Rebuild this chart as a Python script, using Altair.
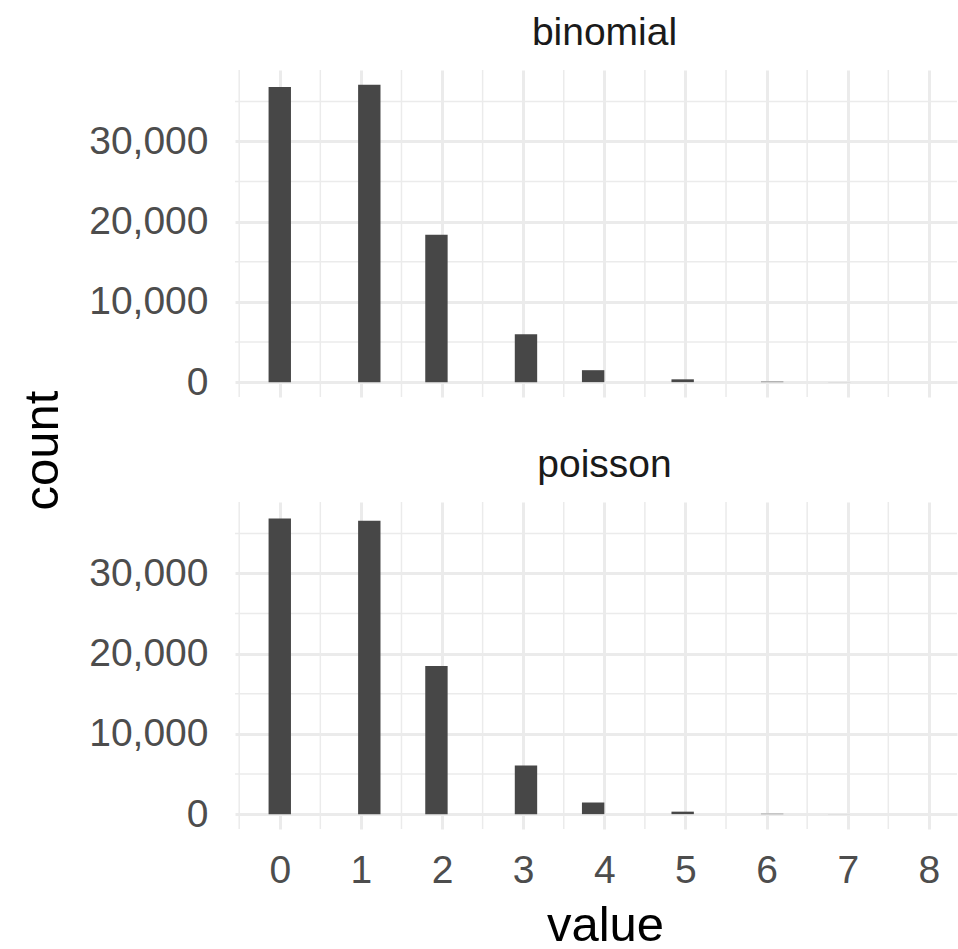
import math
from fractions import Fraction
import altair as alt
import pandas as pd

# ---- data ----
values = [0, 1, 2, 3, 4, 5, 6, 7, 8]
binomial_counts = [36780, 37060, 18380, 5980, 1490, 350, 60, 8, 0]
poisson_counts = [36860, 36570, 18470, 6060, 1450, 310, 45, 7, 1]
panels = ["binomial", "poisson"]
n_bins = 30

x_major = [0, 1, 2, 3, 4, 5, 6, 7, 8]
x_minor = [-0.5, 0.5, 1.5, 2.5, 3.5, 4.5, 5.5, 6.5, 7.5]
y_major = [0, 10000, 20000, 30000]
y_minor = [5000, 15000, 25000, 35000]

# ---- ggplot-like binning (30 bins, centred on the minimum, right-closed) ----
bw = Fraction(max(values) - min(values), n_bins - 1)


def bin_center(v):
    k = math.ceil((Fraction(v) - min(values)) / bw - Fraction(1, 2))
    return min(values) + k * bw


def panel_frame(counts):
    rows = []
    for v, c in zip(values, counts):
        ctr = bin_center(v)
        rows.append({"x0": float(ctr - bw / 2), "x1": float(ctr + bw / 2), "count": c})
    return pd.DataFrame(rows)


all_max = max(max(binomial_counts), max(poisson_counts))
x_lo = float(min(values) - bw / 2)
x_hi = float(max(values) + bw / 2)
x_exp = 0.05 * (x_hi - x_lo)
X_DOMAIN = [x_lo - x_exp, 8.3466]
Y_DOMAIN = [-0.05 * all_max, all_max * 1.05]

GRID = "#EBEBEB"
BAR = "#474747"
FONT = "Liberation Sans"
W = 722
H = 327


def panel(name, counts, bottom, first):
    df = panel_frame(counts)
    xscale = alt.Scale(domain=X_DOMAIN, nice=False, zero=False)
    yscale = alt.Scale(domain=Y_DOMAIN, nice=False, zero=False)

    if bottom:
        xaxis = alt.Axis(values=x_major, grid=True, gridColor=GRID, gridWidth=3,
                         ticks=False, domain=False, labelFontSize=39,
                         labelColor="#4D4D4D", labelPadding=22, labelFont=FONT,
                         title="value", titleFontSize=49, titleColor="#000000",
                         titleFontWeight="normal", titleFont=FONT,
                         titleX=370, titleY=111, titleBaseline="alphabetic",
                         titleAlign="center")
    else:
        xaxis = alt.Axis(values=x_major, grid=True, gridColor=GRID, gridWidth=3,
                         ticks=False, domain=False, labels=False, title=None)

    if first:
        yaxis = alt.Axis(values=y_major, format=",d", grid=True, gridColor=GRID,
                         gridWidth=3, ticks=False, domain=False, labelFontSize=39,
                         labelColor="#4D4D4D", labelPadding=27, labelFont=FONT,
                         title="count", titleFontSize=49, titleColor="#000000",
                         titleFontWeight="normal", titleFont=FONT,
                         titleAngle=270, titleX=-178, titleY=380,
                         titleBaseline="alphabetic", titleAlign="center")
    else:
        yaxis = alt.Axis(values=y_major, format=",d", grid=True, gridColor=GRID,
                         gridWidth=3, ticks=False, domain=False, labelFontSize=39,
                         labelColor="#4D4D4D", labelPadding=27, labelFont=FONT,
                         title=None)

    xenc = lambda f: alt.X(f, scale=xscale, axis=xaxis)
    yenc = lambda f: alt.Y(f, scale=yscale, axis=yaxis)

    vminor = alt.Chart(pd.DataFrame({"v": x_minor})).mark_rule(
        color=GRID, strokeWidth=1.5
    ).encode(x=xenc("v:Q"))
    hminor = alt.Chart(pd.DataFrame({"h": y_minor})).mark_rule(
        color=GRID, strokeWidth=1.5
    ).encode(y=yenc("h:Q"))
    bars = alt.Chart(df).mark_rect(color=BAR).encode(
        x=xenc("x0:Q"),
        x2="x1:Q",
        y=yenc("count:Q"),
        y2=alt.datum(0),
    )
    return alt.layer(vminor, hminor, bars).properties(
        width=W, height=H,
        title=alt.TitleParams(text=name, fontSize=39, color="#1A1A1A", font=FONT,
                              fontWeight="normal", anchor="middle", frame="group",
                              dx=8.5, offset=-15, baseline="alphabetic"),
    )


top = panel(panels[0], binomial_counts, bottom=False, first=True)
bot = panel(panels[1], poisson_counts, bottom=True, first=False)

chart = alt.vconcat(top, bot, spacing=105, bounds="flush").properties(
    padding={"left": 18, "top": 14, "right": 0, "bottom": 0},
    background="white",
).configure_view(stroke=None)

chart.save("out.html", embed_options={"renderer": "svg", "actions": False})
